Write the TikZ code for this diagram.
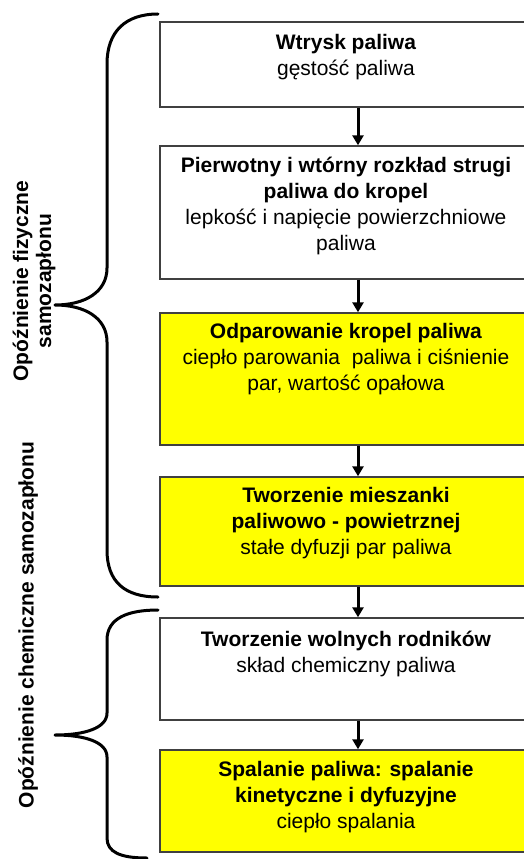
\documentclass[tikz,border=0pt]{standalone}
\usepackage{fontspec}
\setmainfont{Liberation Sans}
\usetikzlibrary{arrows.meta}
\definecolor{boxgray}{HTML}{404040}
\definecolor{stageyellow}{HTML}{FFFF00}
\begin{document}
\begin{tikzpicture}[x=1pt,y=-1pt,
  stage/.style={draw=boxgray, line width=1.4pt, rectangle, minimum width=372pt, inner sep=0pt},
  whitestage/.style={stage, fill=white},
  yellowstage/.style={stage, fill=stageyellow},
  txt/.style={align=center, inner sep=0pt, font=\fontsize{21pt}{26pt}\selectfont},
  sidelabel/.style={align=center, inner sep=0pt, rotate=90, font=\fontsize{21pt}{23pt}\selectfont\bfseries},
  flow/.style={line width=3pt, -{Triangle[width=11pt,length=10pt]}},
  bracepath/.style={line width=3pt, line cap=round, line join=round}
]
\useasboundingbox (0,0) rectangle (524,859);
\clip (0,0) rectangle (524,859);

% boxes
\node[whitestage, minimum height=85pt] (b1) at (346,64.5) {};
\node[whitestage, minimum height=133pt] (b2) at (346,212.5) {};
\node[yellowstage, minimum height=132pt] (b3) at (346,379) {};
\node[yellowstage, minimum height=109pt] (b4) at (346,531.5) {};
\node[whitestage, minimum height=102pt] (b5) at (346,669) {};
\node[yellowstage, minimum height=102pt] (b6) at (346,801) {};

% texts
\node[txt] (t1) at (346,57) {\textbf{Wtrysk paliwa}\\gęstość paliwa};
\node[txt] (t2) at (346,206) {\textbf{Pierwotny i wtórny rozkład strugi}\\\textbf{paliwa do kropel}\\lepkość i napięcie powierzchniowe\\paliwa};
\node[txt] (t3) at (346,359) {\textbf{Odparowanie kropel paliwa}\\ciepło parowania~ paliwa i ciśnienie\\par, wartość opałowa};
\node[txt] (t4) at (346,523) {\textbf{Tworzenie mieszanki}\\\textbf{paliwowo - powietrznej}\\stałe dyfuzji par paliwa};
\node[txt] (t5) at (346,654) {\textbf{Tworzenie wolnych rodników}\\skład chemiczny paliwa};
\node[txt] (t6) at (346,797) {\textbf{Spalanie paliwa: spalanie}\\\textbf{kinetyczne i dyfuzyjne}\\ciepło spalania};

% arrows
\draw[flow] ([xshift=12pt]b1.south) -- ([xshift=12pt]b2.north);
\draw[flow] ([xshift=12pt]b2.south) -- ([xshift=12pt]b3.north);
\draw[flow] ([xshift=12pt]b3.south) -- ([xshift=12pt]b4.north);
\draw[flow] ([xshift=12pt]b4.south) -- ([xshift=12pt]b5.north);
\draw[flow] ([xshift=12pt]b5.south) -- ([xshift=12pt]b6.north);

% braces
\draw[bracepath] (158,14) .. controls (125,14) and (107,32) .. (107,64)
  -- (107,268) .. controls (107,292) and (85,305) .. (55,305)
  .. controls (85,305) and (107,318) .. (107,342)
  -- (107,550) .. controls (107,582) and (125,597) .. (158,597);
\draw[bracepath] (158,610) .. controls (128,610) and (107,618) .. (107,640)
  -- (107,713) .. controls (107,728) and (85,735) .. (55,735)
  .. controls (85,735) and (107,742) .. (107,757)
  -- (107,838) .. controls (107,852) and (120,858) .. (147,858);

% side labels
\node[sidelabel] (l1) at (34,281) {Opóźnienie fizyczne\\samozapłonu};
\node[sidelabel] (l2) at (28,625) {Opóźnienie chemiczne samozapłonu};
\end{tikzpicture}
\end{document}
